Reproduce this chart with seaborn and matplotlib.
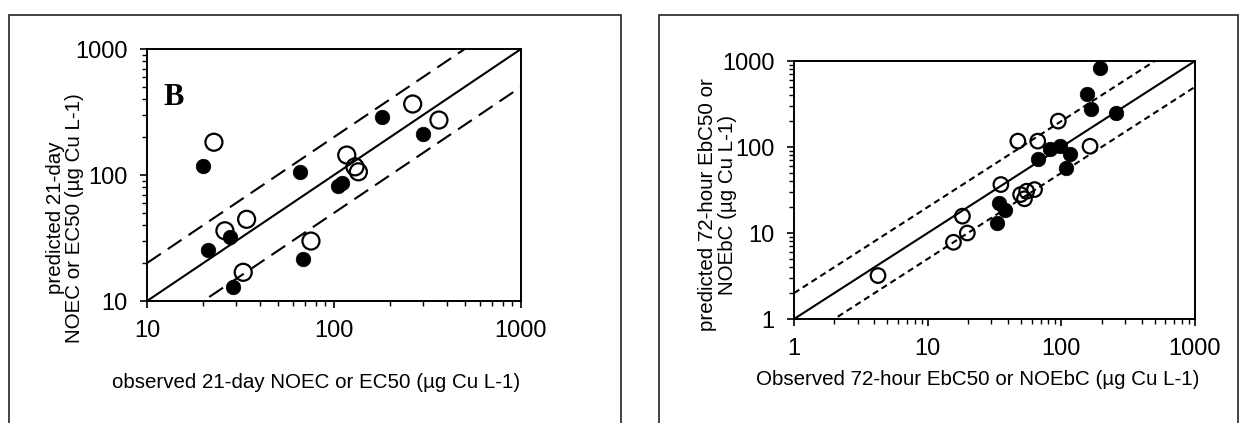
import numpy as np
import pandas as pd
import matplotlib
matplotlib.use("Agg")
import matplotlib.pyplot as plt
from matplotlib.patches import Rectangle
from matplotlib.ticker import LogLocator, NullFormatter, FixedLocator, FixedFormatter
import seaborn as sns

# ---- data: panel B (21-day NOEC / EC50) ----
b_filled_obs = [20.0, 21.3, 27.8, 28.7, 65.8, 68.5, 105, 110, 180, 298]
b_filled_pred = [118, 25.4, 32, 13.0, 106, 21.5, 82, 86, 287, 210]
b_open_obs = [22.8, 26.1, 34.1, 32.7, 75.3, 117, 129.5, 135, 263.5, 364]
b_open_pred = [182, 36.1, 44.5, 16.9, 29.9, 144, 116, 106, 366, 273]
b_lims = [10, 1000]
b_ticks = [10, 100, 1000]

# ---- data: right panel (72-hour EbC50 / NOEbC) ----
r_filled_obs = [33, 34, 37.8, 66.6, 82.8, 98.2, 116, 109, 155, 166, 194, 255]
r_filled_pred = [12.9, 22.4, 18.4, 73, 93.6, 102, 82, 57, 409, 273, 836, 250]
r_open_obs = [4.25, 15.6, 19.8, 18.2, 35.3, 47.3, 66.6, 94.9, 164, 49.6, 55, 63, 53]
r_open_pred = [3.2, 7.8, 10, 15.7, 36.6, 117, 117, 200, 102, 28, 30.6, 32, 25]
r_lims = [1, 1000]
r_ticks = [1, 10, 100, 1000]

factors = [1, 2, 0.5]

sns.set_theme(style="white")
plt.rcParams["font.family"] = ["Liberation Sans", "DejaVu Sans"]
plt.rcParams["text.color"] = "black"
plt.rcParams["axes.labelcolor"] = "black"
plt.rcParams["xtick.color"] = "black"
plt.rcParams["ytick.color"] = "black"

fig = plt.figure(figsize=(12.39, 4.23), dpi=100)

# panel frames
fig.patches.append(Rectangle((9 / 1239, -0.02), (621 - 9) / 1239, 1 - 15 / 423 + 0.02,
                             transform=fig.transFigure, fill=False, ec="#222222", lw=1.2))
fig.patches.append(Rectangle((659 / 1239, -0.02), (1238.4 - 659) / 1239, 1 - 15 / 423 + 0.02,
                             transform=fig.transFigure, fill=False, ec="#222222", lw=1.2))

ax1 = fig.add_axes([147 / 1239, 1 - 301 / 423, 374 / 1239, 252 / 423])
ax2 = fig.add_axes([794 / 1239, 1 - 319 / 423, 401 / 1239, 258 / 423])


def draw_panel(ax, fo, fp, oo, op, lims, ticks, dash, msize_f, msize_o):
    lx = np.array(lims, dtype=float)
    for f in factors:
        ls = "-" if f == 1 else (0, dash)
        ax.plot(lx, lx * f, color="black", lw=1.5, ls=ls, zorder=1)
    df_f = pd.DataFrame({"obs": fo, "pred": fp})
    df_o = pd.DataFrame({"obs": oo, "pred": op})
    sns.scatterplot(data=df_o, x="obs", y="pred", ax=ax, marker="o", s=msize_o,
                    facecolors="none", edgecolor="black", linewidth=1.6, zorder=3)
    sns.scatterplot(data=df_f, x="obs", y="pred", ax=ax, marker="o", s=msize_f,
                    color="black", edgecolor="black", linewidth=0.5, zorder=3)
    ax.set_xscale("log")
    ax.set_yscale("log")
    ax.set_xlim(lims)
    ax.set_ylim(lims)
    for axis in (ax.xaxis, ax.yaxis):
        axis.set_major_locator(FixedLocator(ticks))
        axis.set_major_formatter(FixedFormatter([str(t) for t in ticks]))
        axis.set_minor_locator(LogLocator(base=10, subs=np.arange(2, 10)))
        axis.set_minor_formatter(NullFormatter())
    ax.tick_params(which="major", direction="out", length=5, width=1.2, labelsize=17, pad=9,
                   bottom=True, left=True)
    ax.tick_params(which="minor", direction="out", length=3.5, width=1.0, bottom=True, left=True)
    for sp in ax.spines.values():
        sp.set_visible(True)
        sp.set_color("black")
        sp.set_linewidth(1.4)
    ax.set_facecolor("white")


draw_panel(ax1, b_filled_obs, b_filled_pred, b_open_obs, b_open_pred, b_lims, b_ticks,
           (8, 4), 110, 150)
draw_panel(ax2, r_filled_obs, r_filled_pred, r_open_obs, r_open_pred, r_lims, r_ticks,
           (3, 2), 110, 110)

# axis labels
ax1.set_xlabel("observed 21-day NOEC or EC50 (µg Cu L-1)", fontsize=14.8)
ax1.xaxis.set_label_coords(0.451, -0.325)
ax1.xaxis.label.set_va("center")
ax1.set_ylabel("predicted 21-day\nNOEC or EC50 (µg Cu L-1)", fontsize=14.8, linespacing=1.05)
ax1.yaxis.set_label_coords(-0.219, 0.329)
ax1.yaxis.label.set_va("center")

ax2.set_xlabel("Observed 72-hour EbC50 or NOEbC (µg Cu L-1)", fontsize=14.8)
ax2.xaxis.set_label_coords(0.459, -0.236)
ax2.xaxis.label.set_va("center")
ax2.set_ylabel("predicted 72-hour EbC50 or\nNOEbC (µg Cu L-1)", fontsize=14.8, linespacing=1.05)
ax2.yaxis.set_label_coords(-0.19, 0.442)
ax2.yaxis.label.set_va("center")

ax1.text(0.043, 0.778, "B", transform=ax1.transAxes, fontsize=22, fontweight="bold",
         family=["Liberation Serif", "DejaVu Serif"], ha="left", va="baseline")

fig.savefig("out.png", dpi=100, facecolor="white")
